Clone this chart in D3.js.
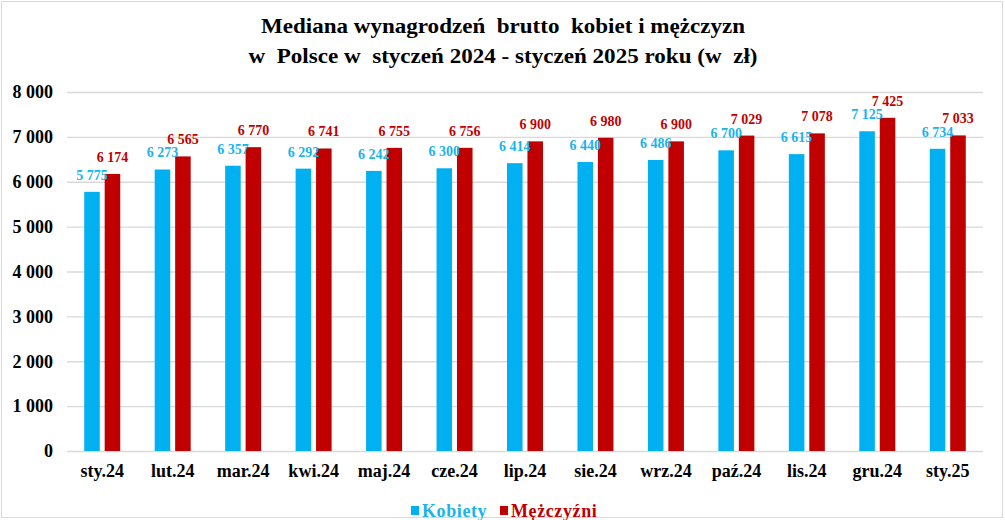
<!DOCTYPE html>
<html lang="pl">
<head>
<meta charset="utf-8">
<script src="https://cdn.jsdelivr.net/npm/d3@7.9.0/dist/d3.min.js"></script>
<style>
  html, body { margin: 0; padding: 0; background: #fff; }
  svg text { font-family: "Liberation Serif", "Times New Roman", serif !important; font-weight: bold; }
</style>
</head>
<body>
<svg id="chart" width="1005" height="520"></svg>
<script>
// dane
const months = ["sty.24", "lut.24", "mar.24", "kwi.24", "maj.24", "cze.24", "lip.24",
                "sie.24", "wrz.24", "paź.24", "lis.24", "gru.24", "sty.25"];
const kobiety = [5775, 6273, 6357, 6292, 6242, 6300, 6414, 6440, 6486, 6700, 6615, 7125, 6734];
const mezczyzni = [6174, 6565, 6770, 6741, 6755, 6756, 6900, 6980, 6900, 7029, 7078, 7425, 7033];
const seriesNames = ["Kobiety", "Mężczyźni"];
const yTicks = [0, 1000, 2000, 3000, 4000, 5000, 6000, 7000, 8000];
const titleLines = ["Mediana wynagrodzeń  brutto  kobiet i mężczyzn",
                    "w  Polsce w  styczeń 2024 - styczeń 2025 roku (w  zł)"];

const colors = { "Kobiety": "#00b0f0", "Mężczyźni": "#c00000" };
const labelColors = { "Kobiety": "#1ab3ec", "Mężczyźni": "#c00000" };

const pl = d3.formatLocale({ decimal: ",", thousands: " ", grouping: [3], currency: ["", " zł"] });
const fmt = pl.format(",d");

const svg = d3.select("#chart");

// ramka
svg.append("rect")
  .attr("x", 1.5).attr("y", 1.5)
  .attr("width", 1001).attr("height", 516)
  .attr("fill", "#fff").attr("stroke", "#d9d9d9");

// tytuł
const titleW = [484, 509];
titleLines.forEach((t, i) => {
  svg.append("text")
    .attr("x", 503)
    .attr("y", 33 + i * 30)
    .attr("text-anchor", "middle")
    .attr("font-size", 22)
    .attr("textLength", titleW[i])
    .attr("lengthAdjust", "spacingAndGlyphs")
    .attr("fill", "#000")
    .style("white-space", "pre")
    .text(t);
});

const plotLeft = 67, plotRight = 983, plotTop = 92, plotBottom = 451;

const x0 = d3.scaleBand().domain(months).range([plotLeft, plotRight]);
const x1 = d3.scaleBand().domain(seriesNames)
  .range([x0.bandwidth() / 2 - 18, x0.bandwidth() / 2 + 18])
  .paddingInner(0.24);
const y = d3.scaleLinear().domain([0, 8000]).range([plotBottom, plotTop]);

// osie
const yAxis = svg.append("g")
  .attr("transform", `translate(${plotLeft},0)`)
  .call(d3.axisLeft(y).tickValues(yTicks).tickFormat(fmt)
    .tickSize(-(plotRight - plotLeft)).tickPadding(14));
yAxis.select(".domain").remove();
yAxis.selectAll(".tick line").attr("stroke", "#d9d9d9").attr("stroke-width", 1.3);
yAxis.selectAll(".tick text")
  .attr("font-size", 18).attr("fill", "#000");

const xAxis = svg.append("g")
  .attr("transform", `translate(0,${plotBottom})`)
  .call(d3.axisBottom(x0).tickSize(0).tickPadding(13));
xAxis.select(".domain").remove();
xAxis.selectAll(".tick text")
  .attr("font-size", 18).attr("fill", "#000");

// słupki
const rows = months.map((m, i) => ({
  month: m,
  values: [
    { key: "Kobiety", value: kobiety[i] },
    { key: "Mężczyźni", value: mezczyzni[i] }
  ]
}));

const groups = svg.append("g").selectAll("g")
  .data(rows)
  .join("g")
  .attr("transform", d => `translate(${x0(d.month)},0)`);

groups.selectAll("rect")
  .data(d => d.values)
  .join("rect")
  .attr("x", d => x1(d.key))
  .attr("y", d => y(d.value))
  .attr("width", x1.bandwidth())
  .attr("height", d => y(0) - y(d.value))
  .attr("fill", d => colors[d.key]);

groups.selectAll("text")
  .data(d => d.values)
  .join("text")
  .attr("x", d => x1(d.key) + x1.bandwidth() / 2)
  .attr("y", d => y(d.value) - 12)
  .attr("text-anchor", "middle")
  .attr("font-size", 14)
  .attr("fill", d => labelColors[d.key])
  .text(d => fmt(d.value));

// legenda
const legendX = [411, 500];
const legend = svg.append("g").selectAll("g")
  .data(seriesNames)
  .join("g")
  .attr("transform", (d, i) => `translate(${legendX[i]},0)`);
legend.append("rect")
  .attr("x", 0).attr("y", 506)
  .attr("width", 8).attr("height", 9)
  .attr("fill", d => colors[d]);
legend.append("text")
  .attr("x", 11).attr("y", 517)
  .attr("font-size", 18)
  .attr("letter-spacing", 0.6)
  .attr("fill", d => labelColors[d])
  .text(d => d);
</script>
</body>
</html>
